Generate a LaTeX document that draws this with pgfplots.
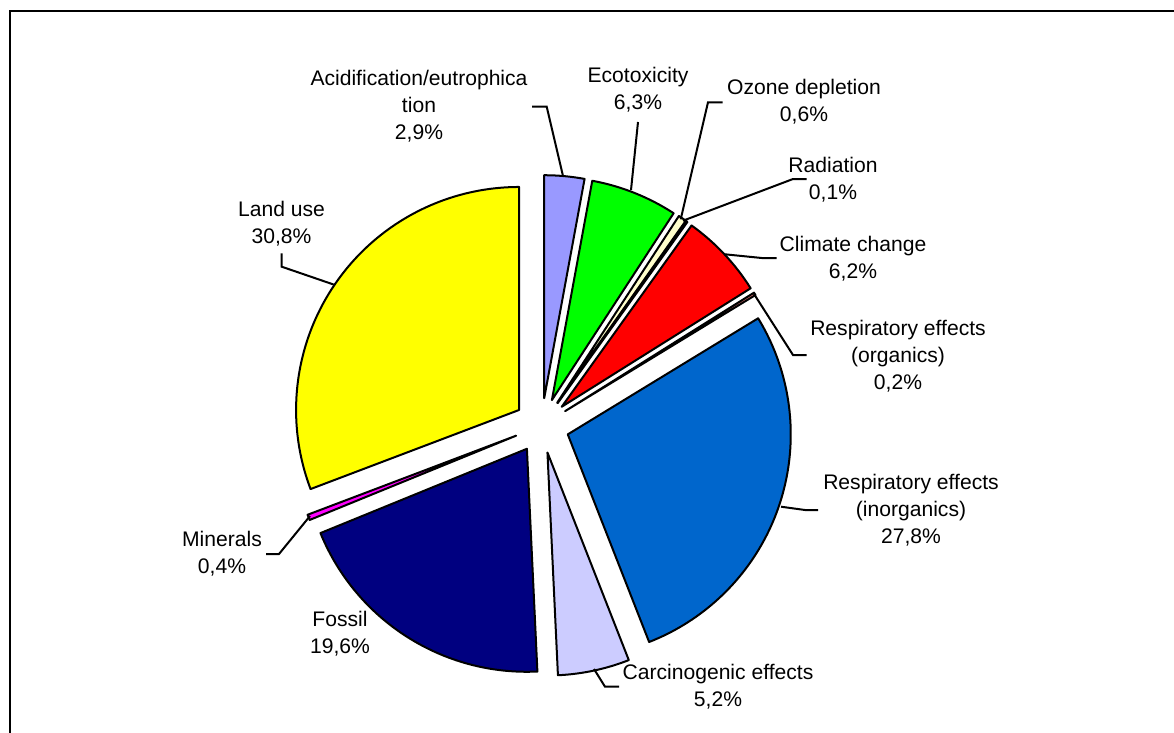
\documentclass[border=0pt]{standalone}
\usepackage{pgfplots}
\pgfplotsset{compat=1.18}
\usepackage{fontspec}
\setmainfont{Liberation Sans}

\definecolor{cAcid}{HTML}{9999FF}
\definecolor{cEco}{HTML}{00FF00}
\definecolor{cOzone}{HTML}{FFFFCC}
\definecolor{cRad}{HTML}{CCFFFF}
\definecolor{cClim}{HTML}{FF0000}
\definecolor{cRorg}{HTML}{FF8080}
\definecolor{cRinorg}{HTML}{0066CC}
\definecolor{cCarc}{HTML}{CCCCFF}
\definecolor{cFoss}{HTML}{000080}
\definecolor{cMin}{HTML}{FF00FF}
\definecolor{cLand}{HTML}{FFFF00}

% pie geometry (axis units = px, 1 px = 0.5bp)
\def\pieX{541.7}
\def\pieY{425.6}
\def\pieR{111.5bp}
\def\pieD{13.75bp}
\def\pieTotal{100.1}
\gdef\cum{0}

% one exploded wedge, clockwise from 12 o'clock
\newcommand\slice[2]{%
  \pgfmathsetmacro\aS{90-(\cum/\pieTotal)*360}%
  \pgfmathsetmacro\cumnew{\cum+#1}%
  \pgfmathsetmacro\aE{90-(\cumnew/\pieTotal)*360}%
  \pgfmathsetmacro\aM{(\aS+\aE)/2}%
  \global\let\cum\cumnew
  \edef\tmp{\noexpand\filldraw[fill=#2, draw=black, line width=1bp, line join=round,
    shift={(axis cs:\pieX,\pieY)}, shift={(\aM:\pieD)}]
    (0,0) -- (\aS:\pieR) arc[start angle=\aS, end angle=\aE, radius=\pieR] -- cycle;}%
  \tmp}

\begin{document}
\begin{tikzpicture}
\begin{axis}[
  name=ax,
  width=587bp, height=366.5bp, scale only axis,
  xmin=0, xmax=1174, ymin=0, ymax=733, y dir=reverse,
  hide axis, clip=false,
]
% frame
\draw[line width=1bp] (axis cs:10,733) -- (axis cs:10,11) -- (axis cs:1174,11);

\slice{2.9}{cAcid}
\slice{6.3}{cEco}
\slice{0.6}{cOzone}
\slice{0.1}{cRad}
\slice{6.2}{cClim}
\slice{0.2}{cRorg}
\slice{27.8}{cRinorg}
\slice{5.2}{cCarc}
\slice{19.6}{cFoss}
\slice{0.4}{cMin}
\slice{30.8}{cLand}

% leader lines
\begin{scope}[line width=1bp]
\draw (axis cs:532,106.7) -- (axis cs:546.7,106.7) -- (axis cs:563,176);
\draw (axis cs:638,122) -- (axis cs:631,190);
\draw (axis cs:722.7,102.3) -- (axis cs:708,102.3) -- (axis cs:680.7,219.3);
\draw (axis cs:806.7,179) -- (axis cs:793,179) -- (axis cs:683,220.7);
\draw (axis cs:776.7,258) -- (axis cs:761.7,258) -- (axis cs:725,254.3);
\draw (axis cs:806.7,355) -- (axis cs:793,355) -- (axis cs:754,294);
\draw (axis cs:818,510) -- (axis cs:805,510) -- (axis cs:781,506.7);
\draw (axis cs:619,686.7) -- (axis cs:605,686.7) -- (axis cs:594,669);
\draw (axis cs:266,554) -- (axis cs:279,554) -- (axis cs:310,516);
\draw (axis cs:281.7,253.3) -- (axis cs:281.7,266.7) -- (axis cs:335,285);
\end{scope}

% labels
\begin{scope}[every node/.style={align=center, inner sep=0pt,
    font={\fontsize{10.55bp}{13.5bp}\selectfont}}]
\node at (axis cs:419,106) {Acidification/eutrophica\\tion\\2,9\%};
\node at (axis cs:638,90) {Ecotoxicity\\6,3\%};
\node at (axis cs:804,101.5) {Ozone depletion\\0,6\%};
\node at (axis cs:833,179.5) {Radiation\\0,1\%};
\node at (axis cs:853,259) {Climate change\\6,2\%};
\node at (axis cs:898,356) {Respiratory effects\\(organics)\\0,2\%};
\node at (axis cs:911,510) {Respiratory effects\\(inorganics)\\27,8\%};
\node at (axis cs:718,686.5) {Carcinogenic effects\\5,2\%};
\node at (axis cs:340,633.5) {Fossil\\19,6\%};
\node at (axis cs:222,553.5) {Minerals\\0,4\%};
\node at (axis cs:281.5,223.5) {Land use\\30,8\%};
\end{scope}
\end{axis}
\pgfresetboundingbox
\path[use as bounding box] (ax.south west) rectangle (ax.north east);
\end{tikzpicture}
\end{document}
